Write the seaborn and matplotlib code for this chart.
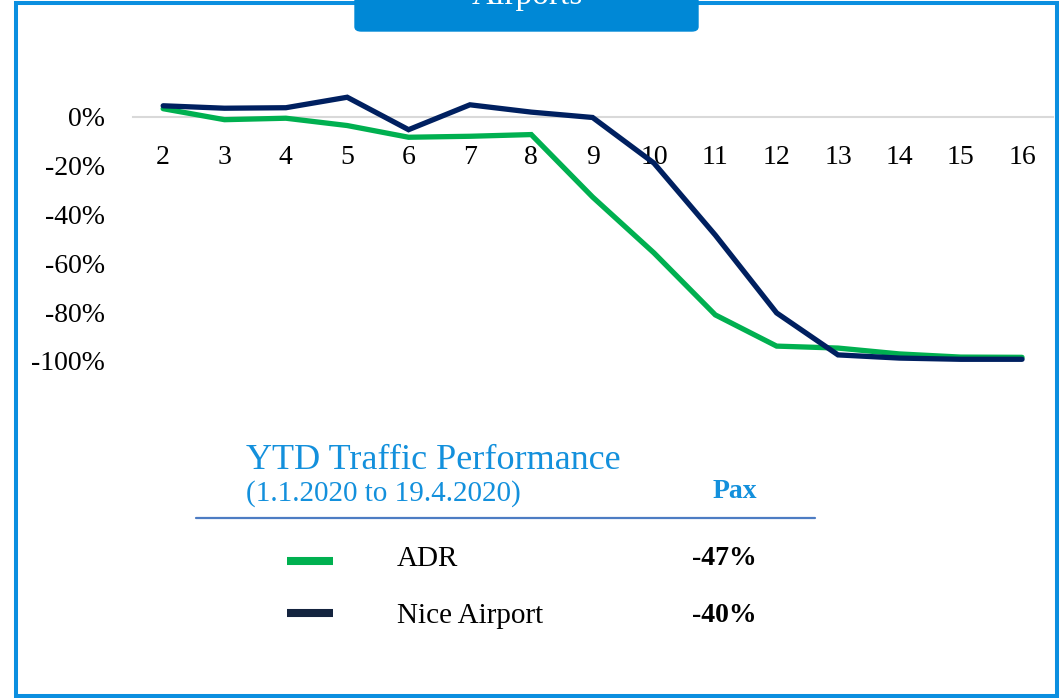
import numpy as np
import pandas as pd
import matplotlib
matplotlib.use("Agg")
import matplotlib.pyplot as plt
from matplotlib.patches import Rectangle, FancyBboxPatch
from matplotlib.lines import Line2D
import seaborn as sns

# ---- data ----
weeks = [2, 3, 4, 5, 6, 7, 8, 9, 10, 11, 12, 13, 14, 15, 16]
adr = [3.4, -1.1, -0.5, -3.5, -8.3, -7.9, -7.2, -32.8, -55.7, -81.1, -93.9, -94.7, -97.1, -98.4, -98.5]
nice = [4.6, 3.6, 3.8, 8.1, -5.2, 5.0, 2.0, -0.2, -18.9, -48.4, -80.3, -97.5, -98.8, -99.3, -99.3]
series_names = ["ADR", "Nice Airport"]
ytd_change = [-47, -40]
y_ticks = [0, -20, -40, -60, -80, -100]

line_colors = {"ADR": "#00B050", "Nice Airport": "#002060"}
swatch_colors = ["#00B050", "#14243F"]

df = pd.DataFrame({
    "week": weeks * 2,
    "value": adr + nice,
    "series": ["ADR"] * len(weeks) + ["Nice Airport"] * len(weeks),
})

sns.set_style("white")
plt.rcParams["font.family"] = ["Liberation Serif", "DejaVu Serif"]

W, H = 1060, 698
fig = plt.figure(figsize=(W / 100, H / 100), dpi=100)
fig.patch.set_facecolor("white")

def fx(p):
    return p / W

def fy(p):
    return 1 - p / H

ax_l, ax_r, ax_t, ax_b = 132.5, 1052.7, 60, 420
ax = fig.add_axes([fx(ax_l), fy(ax_b), fx(ax_r - ax_l), (ax_b - ax_t) / H])
ax.set_facecolor("none")

sns.lineplot(data=df, x="week", y="value", hue="series", hue_order=series_names,
             palette=line_colors, linewidth=3.8, legend=False, ax=ax,
             solid_capstyle="round", solid_joinstyle="miter")

px_per_pct = 2.44
ax.set_ylim(-(ax_b - 117) / px_per_pct, (117 - ax_t) / px_per_pct)
ax.set_xlim(1.5, 16.5)

for s in ["top", "right", "left"]:
    ax.spines[s].set_visible(False)
ax.spines["bottom"].set_position(("data", 0))
ax.spines["bottom"].set_color("#D9D9D9")
ax.spines["bottom"].set_linewidth(1.5)
ax.spines["bottom"].set_zorder(0)

ax.set_xticks(weeks)
ax.set_xticklabels([str(w) for w in weeks])
ax.set_yticks(y_ticks)
ax.set_yticklabels([f"{v}%" for v in y_ticks])
ax.tick_params(axis="x", length=0, pad=20, labelsize=20, labelcolor="black")
ax.tick_params(axis="y", length=0, pad=20, labelsize=20, labelcolor="black")
ax.set_xlabel("")
ax.set_ylabel("")
ax.grid(False)

# ---- frame ----
fig.add_artist(Rectangle((fx(15.5), fy(695.5)), fx(1056.5 - 15.5), (695.5 - 2.5) / H,
                         transform=fig.transFigure, fill=False, edgecolor="#0B8FE0",
                         linewidth=2.9, zorder=5))
# ---- top tab ----
fig.add_artist(FancyBboxPatch((fx(355), fy(31)), fx(343), 45 / H,
                              boxstyle="round,pad=0,rounding_size=0.006",
                              transform=fig.transFigure, facecolor="#0088D6",
                              edgecolor="#0088D6", linewidth=1, zorder=6))
fig.text(fx(527), fy(4), "Airports", ha="center", va="baseline", color="white",
         fontsize=24, zorder=7)

# ---- bottom table ----
blue = "#1390DC"
fig.text(fx(246), fy(469), "YTD Traffic Performance", ha="left", va="baseline",
         color=blue, fontsize=26)
fig.text(fx(246), fy(501), "(1.1.2020 to 19.4.2020)", ha="left", va="baseline",
         color=blue, fontsize=21)
fig.text(fx(757), fy(498), "Pax", ha="right", va="baseline", color=blue,
         fontsize=20, fontweight="bold")
fig.add_artist(Line2D([fx(196), fx(815)], [fy(518), fy(518)], transform=fig.transFigure,
                      color="#4D7CC3", linewidth=1.6))

row_y = [561, 613]
text_base = [566, 623]
for name, val, col, ry, tb in zip(series_names, ytd_change, swatch_colors, row_y, text_base):
    fig.add_artist(Line2D([fx(287), fx(333)], [fy(ry), fy(ry)], transform=fig.transFigure,
                          color=col, linewidth=5.8, solid_capstyle="butt"))
    fig.text(fx(397), fy(tb), name, ha="left", va="baseline", color="black", fontsize=21)
    fig.text(fx(757), fy(tb - 1), f"{val}%", ha="right", va="baseline", color="black",
             fontsize=20, fontweight="bold")

fig.savefig("out.png", dpi=100, facecolor="white")
